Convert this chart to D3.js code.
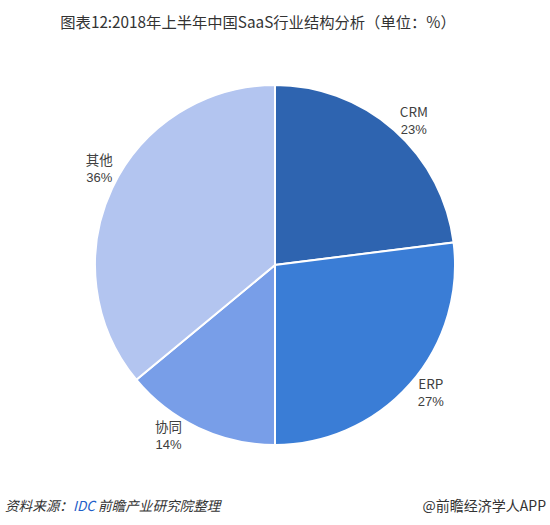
<!DOCTYPE html>
<html><head><meta charset="utf-8">
<script src="https://cdn.jsdelivr.net/npm/d3@7"></script>
<style>body{margin:0;background:#fff;} svg{display:block;}</style>
</head><body>
<svg id="c" width="550" height="525"></svg>
<script>
const categories = ["CRM", "ERP", "协同", "其他"];
const values = [23, 27, 14, 36];
const colors = ["#2e64b0", "#3a7dd6", "#789ee8", "#b3c5f0"];
const title = "图表12:2018年上半年中国SaaS行业结构分析（单位：%）";

const svg = d3.select("#c");
const font = "'Microsoft YaHei','Noto Sans CJK SC','Noto Sans',sans-serif";
const numFont = "'Liberation Sans',Arial,sans-serif";
const cx = 275, cy = 265, R = 180, labelR = 201;
// layout-only angular nudges (degrees) for label placement
const labelNudge = [2.3, -2.2, 6.8, 3.8];

svg.append("text").attr("x", 258).attr("y", 28).attr("text-anchor", "middle")
  .attr("font-family", font).attr("font-size", 15.3).attr("fill", "#333").text(title);

const data = categories.map((c, i) => ({ name: c, value: values[i], color: colors[i] }));
const pie = d3.pie().value(d => d.value).sort(null);
const arcs = pie(data);
const arc = d3.arc().innerRadius(0).outerRadius(R);

const g = svg.append("g").attr("transform", `translate(${cx},${cy})`);
g.selectAll("path").data(arcs).join("path")
  .attr("d", arc).attr("fill", d => d.data.color)
  .attr("stroke", "#fff").attr("stroke-width", 2);

const lab = g.selectAll("g.lab").data(arcs).join("g").attr("class", "lab")
  .attr("transform", (d, i) => {
    const a = (d.startAngle + d.endAngle) / 2 + labelNudge[i] * Math.PI / 180;
    return `translate(${labelR * Math.sin(a)},${-labelR * Math.cos(a)})`;
  });
lab.append("text").attr("text-anchor", "middle").attr("y", -3)
  .attr("font-family", font).attr("font-size", 13.5).attr("fill", "#404040")
  .text(d => d.data.name);
lab.append("text").attr("text-anchor", "middle").attr("y", 14)
  .attr("font-family", numFont).attr("font-size", 13).attr("fill", "#404040")
  .text(d => d.data.value + "%");

const foot = svg.append("text").attr("x", 5).attr("y", 511)
  .attr("font-family", font).attr("font-size", 13.6).attr("font-style", "italic").attr("fill", "#333");
foot.append("tspan").text("资料来源：");
foot.append("tspan").attr("fill", "#1f5fc8").text("IDC");
foot.append("tspan").text(" 前瞻产业研究院整理");

svg.append("text").attr("x", 546).attr("y", 511).attr("text-anchor", "end")
  .attr("font-family", font).attr("font-size", 14).attr("fill", "#333").text("@前瞻经济学人APP");
</script>
</body></html>
